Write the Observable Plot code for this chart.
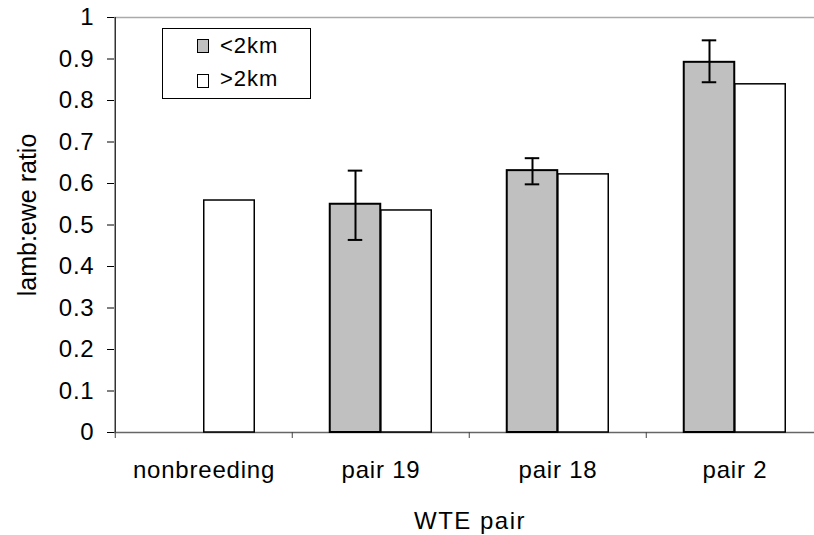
<!DOCTYPE html>
<html>
<head>
<meta charset="utf-8">
<script src="https://cdn.jsdelivr.net/npm/d3@7"></script>
<script src="https://cdn.jsdelivr.net/npm/@observablehq/plot@0.6"></script>
<style>
  html, body { margin: 0; padding: 0; background: #fff; overflow: hidden; }
  #wrap { position: relative; width: 814px; height: 535px; font-family: "Liberation Sans", Arial, sans-serif; color: #000; }
  #wrap svg text { font-size: 24px; letter-spacing: 0.8px; }
  .ylab { position: absolute; left: 27px; top: 215px; transform: translate(-50%, -50%) rotate(-90deg); font-size: 25px; white-space: nowrap; line-height: 1; }
  .xlab { position: absolute; left: 470px; top: 509px; transform: translateX(-50%); font-size: 24px; letter-spacing: 1.5px; white-space: nowrap; line-height: 1; }
  .legend { position: absolute; left: 162px; top: 28px; width: 147px; height: 69px; border: 1px solid #000; background: #fff; }
  .sw { position: absolute; width: 10px; height: 12px; border: 1px solid #000; }
  .lt { position: absolute; font-size: 22px; letter-spacing: 1px; line-height: 1; white-space: nowrap; }
</style>
</head>
<body>
<div id="wrap"></div>
<script>
// ---- data ----
const categories = ["nonbreeding", "pair 19", "pair 18", "pair 2"];
const series = ["<2km", ">2km"];
const near = [null, 0.55, 0.631, 0.892];      // <2km
const far = [0.559, 0.535, 0.622, 0.839];     // >2km
const nearErrLow = [null, 0.464, 0.598, 0.844];
const nearErrHigh = [null, 0.631, 0.661, 0.945];
const yTicks = [0, 0.1, 0.2, 0.3, 0.4, 0.5, 0.6, 0.7, 0.8, 0.9, 1];
const yTickLabels = ["0", "0.1", "0.2", "0.3", "0.4", "0.5", "0.6", "0.7", "0.8", "0.9", "1"];
const xTitle = "WTE pair";
const yTitle = "lamb:ewe ratio";
const seriesFill = ["#c0c0c0", "#ffffff"];

// ---- tables built from the arrays ----
const nearData = categories.map((c, i) => ({cat: c, value: near[i]})).filter(d => d.value != null);
const farData = categories.map((c, i) => ({cat: c, value: far[i]})).filter(d => d.value != null);
const errData = categories.map((c, i) => ({cat: c, lo: nearErrLow[i], hi: nearErrHigh[i]})).filter(d => d.lo != null);

// ---- layout (styles, not data) ----
const W = 814, H = 535;
const mL = 114, mT = 17, mB = 103;
const xRange = [mL, 824];
const BAND = (xRange[1] - xRange[0]) / categories.length;
const BAR = 51;
const PAD = (BAND - 2 * BAR) / 2;
const CAP = 15;
const capIn = PAD + BAR / 2 - CAP / 2;

const chart = Plot.plot({
  width: W, height: H,
  marginTop: mT, marginBottom: mB, marginLeft: mL, marginRight: 0,
  style: {fontFamily: "'Liberation Sans', Arial, sans-serif", fontSize: "24px", color: "#000", background: "white"},
  x: {domain: categories, range: xRange, padding: 0, tickSize: 0, tickPadding: 28, label: null},
  y: {domain: [0, 1], ticks: yTicks, tickFormat: d => yTickLabels[yTicks.indexOf(d)], tickSize: 7, tickPadding: 13, label: null},
  marks: [
    Plot.ruleY([1], {stroke: "#aaaaaa", strokeWidth: 1.5}),
    Plot.ruleY([0], {stroke: "#666666", strokeWidth: 1.5}),
    Plot.ruleX(categories, {x: d => d, dx: -BAND / 2, y1: 0, y2: 0, insetBottom: -6, stroke: "#444", strokeWidth: 1}),
    Plot.ruleX([categories[0]], {x: d => d, dx: -BAND / 2, y1: 0, y2: 1, stroke: "#333", strokeWidth: 1.5}),
    Plot.barY(farData, {x: "cat", y: "value", fill: seriesFill[1], stroke: "#000", strokeWidth: 1.5, insetLeft: PAD + BAR, insetRight: PAD}),
    Plot.barY(nearData, {x: "cat", y: "value", fill: seriesFill[0], stroke: "#000", strokeWidth: 2, insetLeft: PAD, insetRight: PAD + BAR}),
    Plot.ruleX(errData, {x: "cat", y1: "lo", y2: "hi", dx: -BAR / 2, stroke: "#000", strokeWidth: 2}),
    Plot.tickY(errData, {x: "cat", y: "lo", insetLeft: capIn, insetRight: BAND - capIn - CAP, stroke: "#000", strokeWidth: 2}),
    Plot.tickY(errData, {x: "cat", y: "hi", insetLeft: capIn, insetRight: BAND - capIn - CAP, stroke: "#000", strokeWidth: 2})
  ]
});

const wrap = document.getElementById("wrap");
wrap.appendChild(chart);

const yl = document.createElement("div");
yl.className = "ylab"; yl.textContent = yTitle; wrap.appendChild(yl);
const xl = document.createElement("div");
xl.className = "xlab"; xl.textContent = xTitle; wrap.appendChild(xl);

const lg = document.createElement("div");
lg.className = "legend";
series.forEach((s, i) => {
  const sw = document.createElement("div");
  sw.className = "sw";
  sw.style.left = "34px"; sw.style.top = (10 + i * 34.5) + "px";
  sw.style.background = seriesFill[i];
  lg.appendChild(sw);
  const t = document.createElement("div");
  t.className = "lt";
  t.style.left = "57px"; t.style.top = (6 + i * 33) + "px";
  t.textContent = s;
  lg.appendChild(t);
});
wrap.appendChild(lg);
</script>
</body>
</html>
